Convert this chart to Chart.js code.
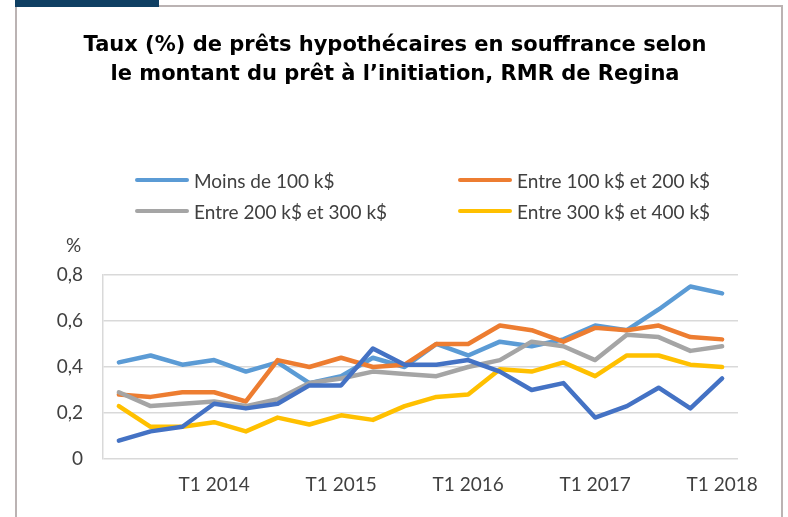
<!DOCTYPE html>
<html>
<head>
<meta charset="utf-8">
<script src="https://cdn.jsdelivr.net/npm/chart.js@4.4.1/dist/chart.umd.min.js"></script>
<style>
  body { margin: 0; background: #fff; font-family: Lato, sans-serif; }
  #page { position: relative; width: 788px; height: 517px; overflow: hidden; }
  #c { position: absolute; left: 0; top: 0; }
  .edge { position: absolute; background: #bbb3b3; }
  #navy { position: absolute; left: 15px; top: 0; width: 144px; height: 7px; background: #0f3f63; }
  .leg { position: absolute; display: flex; align-items: center; font-size: 19px; color: #404040; white-space: nowrap; }
  .leg span.ln { display: inline-block; width: 54px; height: 4.5px; border-radius: 3px; margin-right: 5px; }
  #unit { position: absolute; left: 66px; top: 233px; font-size: 19px; color: #404040; }
</style>
</head>
<body>
<div id="page">
  <div class="edge" style="left:15px;top:5px;width:768px;height:2px"></div>
  <div class="edge" style="left:15px;top:5px;width:2px;height:512px"></div>
  <div class="edge" style="left:781px;top:5px;width:2px;height:512px"></div>
  <div id="navy"></div>
  <canvas id="c" width="788" height="517"></canvas>
  <div id="legend"></div>
  <div id="unit">%</div>
</div>
<script>
// trimestres, de T2 2013 à T1 2018
const quarters = [
  'T2 2013', 'T3 2013', 'T4 2013',
  'T1 2014', 'T2 2014', 'T3 2014', 'T4 2014',
  'T1 2015', 'T2 2015', 'T3 2015', 'T4 2015',
  'T1 2016', 'T2 2016', 'T3 2016', 'T4 2016',
  'T1 2017', 'T2 2017', 'T3 2017', 'T4 2017',
  'T1 2018'
]
const yTicks = [0, 0.2, 0.4, 0.6, 0.8]

const moins100 = [0.42, 0.45, 0.41, 0.43, 0.38, 0.42, 0.33, 0.36, 0.44, 0.40, 0.50, 0.45, 0.51, 0.49, 0.52, 0.58, 0.56, 0.65, 0.75, 0.72]
const entre100_200 = [0.28, 0.27, 0.29, 0.29, 0.25, 0.43, 0.40, 0.44, 0.40, 0.41, 0.50, 0.50, 0.58, 0.56, 0.51, 0.57, 0.56, 0.58, 0.53, 0.52]
const entre200_300 = [0.29, 0.23, 0.24, 0.25, 0.23, 0.26, 0.33, 0.35, 0.38, 0.37, 0.36, 0.40, 0.43, 0.51, 0.49, 0.43, 0.54, 0.53, 0.47, 0.49]
const entre300_400 = [0.23, 0.14, 0.14, 0.16, 0.12, 0.18, 0.15, 0.19, 0.17, 0.23, 0.27, 0.28, 0.39, 0.38, 0.42, 0.36, 0.45, 0.45, 0.41, 0.40]
const plus400 = [0.08, 0.12, 0.14, 0.24, 0.22, 0.24, 0.32, 0.32, 0.48, 0.41, 0.41, 0.43, 0.38, 0.30, 0.33, 0.18, 0.23, 0.31, 0.22, 0.35]

const series = [
  { label: 'Moins de 100 k$', data: moins100, color: '#5b9bd5', inLegend: true },
  { label: 'Entre 100 k$ et 200 k$', data: entre100_200, color: '#ed7d31', inLegend: true },
  { label: 'Entre 200 k$ et 300 k$', data: entre200_300, color: '#a5a5a5', inLegend: true },
  { label: 'Entre 300 k$ et 400 k$', data: entre300_400, color: '#ffc000', inLegend: true },
  { label: '400 k$ et plus', data: plus400, color: '#4472c4', inLegend: false }
]

const textColor = '#404040'
const gridColor = '#d9d9d9'
Chart.defaults.font.family = 'Lato, sans-serif'

const chart = new Chart(document.getElementById('c'), {
  type: 'line',
  data: {
    labels: quarters,
    datasets: series.map((s, i) => ({
      label: s.label,
      data: s.data,
      borderColor: s.color,
      backgroundColor: s.color,
      borderWidth: 4.5,
      borderCapStyle: 'round',
      borderJoinStyle: 'round',
      pointRadius: 0,
      tension: 0,
      // la dernière série est dessinée par-dessus, comme dans Excel
      order: series.length - i
    }))
  },
  options: {
    responsive: false,
    animation: false,
    layout: { padding: { left: 52, right: 50, top: 0, bottom: 0 } },
    plugins: {
      legend: { display: false },
      tooltip: { enabled: false },
      title: {
        display: true,
        text: [
          'Taux (%) de prêts hypothécaires en souffrance selon',
          'le montant du prêt à l’initiation, RMR de Regina'
        ],
        color: '#000000',
        font: { family: '"DejaVu Sans", sans-serif', size: 21, weight: 'bold', lineHeight: 1.38 },
        padding: { top: 31, bottom: 186 }
      }
    },
    scales: {
      x: {
        offset: true,
        afterFit: s => { s.height = 58 },
        grid: { display: false, drawTicks: false },
        border: { display: false },
        ticks: {
          autoSkip: false,
          maxRotation: 0,
          padding: 14,
          color: textColor,
          font: { size: 19 },
          callback: function(value, index) {
            const q = quarters[index]
            return q.startsWith('T1') ? q : ''
          }
        }
      },
      y: {
        min: 0,
        max: 0.8,
        afterFit: s => { s.width = 51 },
        afterBuildTicks: s => { s.ticks = yTicks.map(v => ({ value: v })) },
        grid: { color: gridColor, lineWidth: 1.5, drawTicks: false },
        border: { display: true, color: gridColor, width: 1.5 },
        ticks: {
          padding: 20,
          color: textColor,
          font: { size: 19 },
          callback: function(value) {
            return value === 0 ? '0' : value.toFixed(1).replace('.', ',')
          }
        }
      }
    }
  }
})

// légende sur deux colonnes
const legendBox = document.getElementById('legend')
const legCols = [135, 458]
const legRows = [180, 211]
series.filter(s => s.inLegend).forEach((s, i) => {
  const item = document.createElement('div')
  item.className = 'leg'
  item.style.left = legCols[i % 2] + 'px'
  item.style.top = (legRows[Math.floor(i / 2)] - 12) + 'px'
  item.style.height = '24px'
  const ln = document.createElement('span')
  ln.className = 'ln'
  ln.style.background = s.color
  item.appendChild(ln)
  item.appendChild(document.createTextNode(s.label))
  legendBox.appendChild(item)
})
</script>
</body>
</html>
